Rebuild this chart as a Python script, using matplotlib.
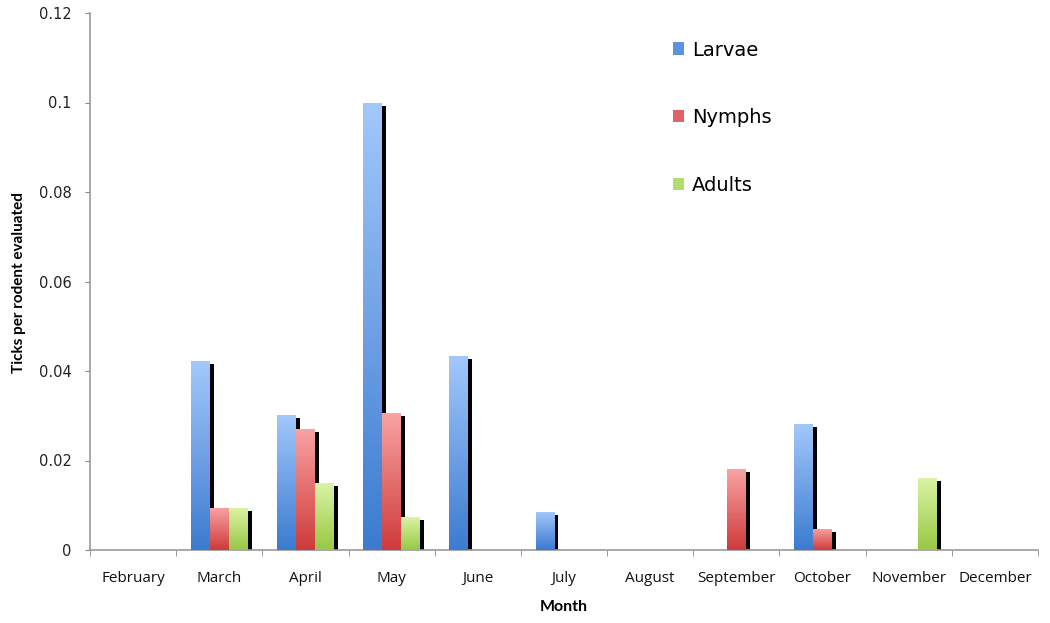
import numpy as np
import matplotlib
matplotlib.use("Agg")
import matplotlib.pyplot as plt
from matplotlib.patches import Patch
from matplotlib.colors import LinearSegmentedColormap

months = ["February", "March", "April", "May", "June", "July", "August",
          "September", "October", "November", "December"]
larvae = [0, 0.0422, 0.0302, 0.1000, 0.0434, 0.0085, 0, 0, 0.0282, 0, 0]
nymphs = [0, 0.0094, 0.0271, 0.0306, 0, 0, 0, 0.0181, 0.0047, 0, 0]
adults = [0, 0.0094, 0.0150, 0.0074, 0, 0, 0, 0, 0, 0.0161, 0]
series_names = ["Larvae", "Nymphs", "Adults"]
series_vals = [larvae, nymphs, adults]
yticks = [0, 0.02, 0.04, 0.06, 0.08, 0.1, 0.12]
yticklabels = ["0", "0.02", "0.04", "0.06", "0.08", "0.1", "0.12"]

# gradient colours (top, bottom)
grads = [("#a3c8fb", "#3b7bd0"), ("#f9a3a3", "#cf3a3a"), ("#dcf4a6", "#97c845")]
legend_cols = ["#5b93e0", "#e06363", "#b2dc6e"]

fig = plt.figure(figsize=(10.5, 6.23), dpi=100)
ax = fig.add_axes([90/1050, 73/623, 948/1050, 537/623])

x = np.arange(len(months))
w = 0.22
offsets = [-w, 0, w]
dx_sh = 0.045
dy_sh = 0.0007

# shadows first
for vals, off in zip(series_vals, offsets):
    for xi, v in zip(x, vals):
        if v > 0:
            ax.bar(xi + off + dx_sh, max(v - dy_sh, 0), width=w, color="black",
                   align="center", zorder=1, linewidth=0)

for k, (vals, off) in enumerate(zip(series_vals, offsets)):
    cmap = LinearSegmentedColormap.from_list("g%d" % k, [grads[k][1], grads[k][0]])
    grad = np.linspace(0, 1, 256).reshape(-1, 1)
    for xi, v in zip(x, vals):
        if v > 0:
            bars = ax.bar(xi + off, v, width=w, color="none", linewidth=0, zorder=2)
            rect = bars[0]
            x0 = xi + off - w/2
            im = ax.imshow(grad, cmap=cmap, aspect="auto", origin="lower",
                           extent=[x0, x0 + w, 0, v], zorder=3)
            im.set_clip_path(rect)

ax.set_xlim(-0.5, len(months) - 0.5)
ax.set_ylim(0, 0.12)
ax.set_yticks(yticks)
ax.set_yticklabels(yticklabels, fontsize=10.5, color="#222222", family="DejaVu Sans")
ax.set_xticks(x)
ax.set_xticklabels(months, fontsize=11, color="#111111", family="Open Sans")
ax.set_xticks(np.arange(-0.5, len(months)), minor=True)
ax.tick_params(axis="x", which="major", length=0, pad=15)
ax.tick_params(axis="x", which="minor", length=4, color="#888888", direction="out")
ax.tick_params(axis="y", length=3.6, color="#888888", direction="out", pad=9.5)
for s in ["top", "right"]:
    ax.spines[s].set_visible(False)
for s in ["left", "bottom"]:
    ax.spines[s].set_color("#999999")
    ax.spines[s].set_linewidth(1.2)
ax.set_aspect("auto")

ax.set_xlabel("Month", fontsize=11.5, fontweight="bold", family="Lato", labelpad=10)
ax.set_ylabel("Ticks per rodent evaluated", fontsize=11, fontweight="bold",
              family="Lato", labelpad=10)
ax.yaxis.set_label_coords(26/1050, 1 - 283/623, transform=fig.transFigure)

handles = [Patch(facecolor=c, edgecolor="none") for c in legend_cols]
leg = ax.legend(handles, series_names, loc="upper left",
                bbox_to_anchor=(655/1050, 1 - 23/623), bbox_transform=fig.transFigure,
                frameon=False, fontsize=14, handlelength=0.6, handleheight=0.6,
                handletextpad=0.4, labelspacing=2.5)

fig.savefig("out.png", dpi=100)
